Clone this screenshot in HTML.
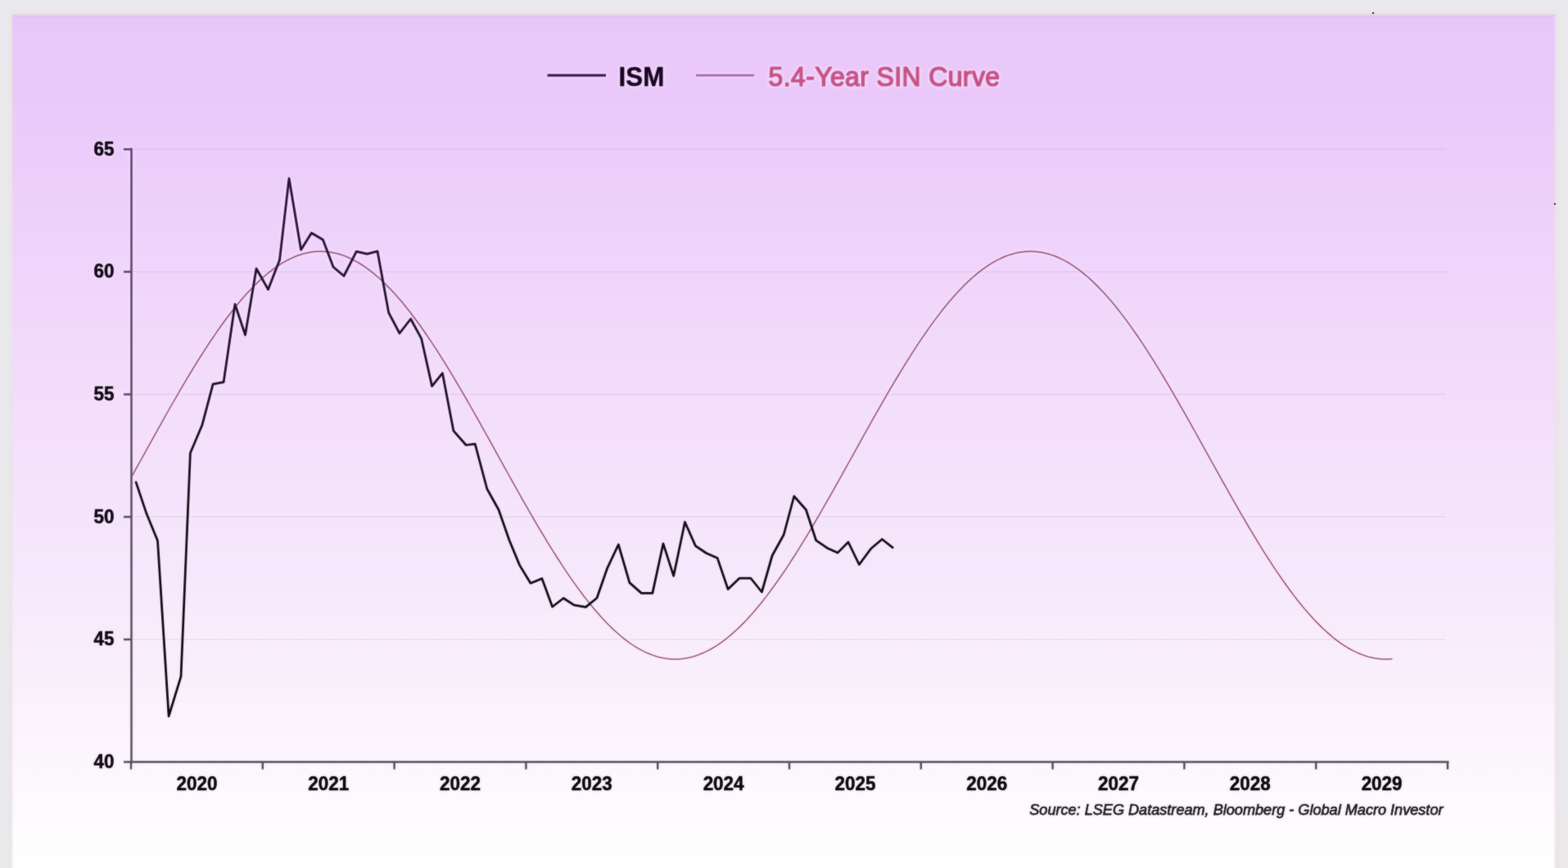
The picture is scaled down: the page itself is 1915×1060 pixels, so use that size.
<!DOCTYPE html>
<html lang="en">
<head>
<meta charset="utf-8">
<title>ISM vs 5.4-Year SIN Curve</title>
<style>
  html, body { margin: 0; padding: 0; background: #e9e8ea; }
  body { width: 1915px; height: 1060px; overflow: hidden; position: relative;
         font-family: "Liberation Sans", Arial, Helvetica, sans-serif; }
  .card { position: absolute; left: 15px; top: 18px; width: 1883.5px; height: 1070px; filter: blur(1.2px);
          background: linear-gradient(to bottom, #e9c6fa 0px, #ebcbfa 140px, #f0d6fb 330px, #f4e0fb 520px, #f7e9fc 700px, #fbf3fd 860px, #fefbfe 980px, #ffffff 1042px);
          box-shadow: 0 0 4px 1.5px rgba(238,224,230,0.95), inset 0 3px 3px -1px rgba(205,190,215,0.55); }
  svg { position: absolute; left: 0; top: 0; }
  text { font-family: "Liberation Sans", Arial, Helvetica, sans-serif; }
  .ylab { font-size: 22.4px; font-weight: bold; fill: #0c0510; stroke: #0c0510; stroke-width: 0.5px; text-anchor: end; }
  .xlab { font-size: 22.45px; font-weight: bold; fill: #050307; stroke: #050307; stroke-width: 0.5px; text-anchor: middle; }
  .leg  { font-size: 32px; font-weight: bold; }
  .src  { font-size: 18.13px; font-style: italic; fill: #1d1922; stroke: #1d1922; stroke-width: 0.75px; text-anchor: end; }
</style>
</head>
<body>
<div class="card"></div>
<svg width="1915" height="1060" viewBox="0 0 1915 1060">

<g stroke="#9a78ac" stroke-opacity="0.11" stroke-width="1.8" fill="none">
<line x1="162" y1="182.3" x2="1766" y2="182.3"/>
<line x1="162" y1="331.9" x2="1766" y2="331.9"/>
<line x1="162" y1="481.6" x2="1766" y2="481.6"/>
<line x1="162" y1="631.2" x2="1766" y2="631.2"/>
<line x1="162" y1="780.9" x2="1766" y2="780.9"/>
</g>
<defs>
<filter id="soft" filterUnits="userSpaceOnUse" x="0" y="0" width="1915" height="1060" color-interpolation-filters="sRGB">
  <feGaussianBlur in="SourceAlpha" stdDeviation="2" result="h"/>
  <feGaussianBlur in="SourceAlpha" stdDeviation="0.85" result="b1"/>
  <feComponentTransfer in="b1" result="b2"><feFuncA type="linear" slope="3"/></feComponentTransfer>
  <feComposite in="h" in2="b2" operator="out" result="ho"/>
  <feComponentTransfer in="ho" result="ho2"><feFuncA type="linear" slope="1.8"/></feComponentTransfer>
  <feFlood flood-color="#fff0fd" result="c"/>
  <feComposite in="c" in2="ho2" operator="in" result="halo"/>
  <feGaussianBlur in="SourceGraphic" stdDeviation="0.85" result="blur"/>
  <feComposite in="blur" in2="SourceGraphic" operator="arithmetic" k1="0" k2="0.4" k3="0.6" k4="0" result="soft"/>
  <feMerge><feMergeNode in="halo"/><feMergeNode in="soft"/></feMerge>
</filter>
</defs>
<g filter="url(#soft)">
<defs><linearGradient id="ag" gradientUnits="userSpaceOnUse" x1="0" y1="180" x2="0" y2="940"><stop offset="0" stop-color="#5d3f70"/><stop offset="0.5" stop-color="#5a4766"/><stop offset="1" stop-color="#514d57"/></linearGradient></defs>
<g stroke="url(#ag)" stroke-width="2.5" fill="none" stroke-linecap="butt">
<line x1="160.5" y1="180.8" x2="160.5" y2="932.0"/>
<line x1="151" y1="930.5" x2="1769.5" y2="930.5"/>
<line x1="151" y1="182.3" x2="160.5" y2="182.3"/>
<line x1="151" y1="331.9" x2="160.5" y2="331.9"/>
<line x1="151" y1="481.6" x2="160.5" y2="481.6"/>
<line x1="151" y1="631.2" x2="160.5" y2="631.2"/>
<line x1="151" y1="780.9" x2="160.5" y2="780.9"/>
<line x1="160.0" y1="930.5" x2="160.0" y2="939.5"/>
<line x1="320.8" y1="930.5" x2="320.8" y2="939.5"/>
<line x1="481.6" y1="930.5" x2="481.6" y2="939.5"/>
<line x1="642.4" y1="930.5" x2="642.4" y2="939.5"/>
<line x1="803.2" y1="930.5" x2="803.2" y2="939.5"/>
<line x1="964.0" y1="930.5" x2="964.0" y2="939.5"/>
<line x1="1124.8" y1="930.5" x2="1124.8" y2="939.5"/>
<line x1="1285.6" y1="930.5" x2="1285.6" y2="939.5"/>
<line x1="1446.4" y1="930.5" x2="1446.4" y2="939.5"/>
<line x1="1607.2" y1="930.5" x2="1607.2" y2="939.5"/>
<line x1="1768.0" y1="930.5" x2="1768.0" y2="939.5"/>
</g>
<polyline points="160.5,582.6 164.5,575.4 168.5,568.2 172.5,561.0 176.5,553.8 180.5,546.5 184.5,539.3 188.5,532.1 192.5,524.9 196.5,517.8 200.5,510.6 204.5,503.5 208.5,496.5 212.5,489.5 216.5,482.6 220.5,475.7 224.5,468.9 228.5,462.1 232.5,455.5 236.5,448.9 240.5,442.4 244.5,436.0 248.5,429.8 252.5,423.6 256.5,417.5 260.5,411.6 264.5,405.7 268.5,400.0 272.5,394.5 276.5,389.0 280.5,383.7 284.5,378.6 288.5,373.6 292.5,368.8 296.5,364.1 300.5,359.5 304.5,355.2 308.5,351.0 312.5,347.0 316.5,343.1 320.5,339.5 324.5,336.0 328.5,332.7 332.5,329.6 336.5,326.7 340.5,324.0 344.5,321.4 348.5,319.1 352.5,317.0 356.5,315.1 360.5,313.3 364.5,311.8 368.5,310.5 372.5,309.4 376.5,308.5 380.5,307.8 384.5,307.3 388.5,307.1 392.5,307.0 396.5,307.2 400.5,307.5 404.5,308.1 408.5,308.9 412.5,309.8 416.5,311.0 420.5,312.4 424.5,314.0 428.5,315.9 432.5,317.9 436.5,320.1 440.5,322.5 444.5,325.1 448.5,327.9 452.5,330.9 456.5,334.1 460.5,337.5 464.5,341.0 468.5,344.8 472.5,348.7 476.5,352.8 480.5,357.0 484.5,361.5 488.5,366.0 492.5,370.8 496.5,375.7 500.5,380.8 504.5,386.0 508.5,391.3 512.5,396.8 516.5,402.5 520.5,408.2 524.5,414.1 528.5,420.1 532.5,426.2 536.5,432.4 540.5,438.8 544.5,445.2 548.5,451.7 552.5,458.3 556.5,465.0 560.5,471.8 564.5,478.6 568.5,485.5 572.5,492.5 576.5,499.5 580.5,506.6 584.5,513.7 588.5,520.8 592.5,528.0 596.5,535.2 600.5,542.4 604.5,549.6 608.5,556.8 612.5,564.1 616.5,571.3 620.5,578.5 624.5,585.7 628.5,592.8 632.5,600.0 636.5,607.1 640.5,614.1 644.5,621.1 648.5,628.1 652.5,635.0 656.5,641.8 660.5,648.5 664.5,655.2 668.5,661.8 672.5,668.3 676.5,674.7 680.5,681.0 684.5,687.2 688.5,693.3 692.5,699.3 696.5,705.1 700.5,710.9 704.5,716.4 708.5,721.9 712.5,727.2 716.5,732.4 720.5,737.4 724.5,742.3 728.5,747.0 732.5,751.6 736.5,756.0 740.5,760.2 744.5,764.2 748.5,768.1 752.5,771.8 756.5,775.3 760.5,778.7 764.5,781.8 768.5,784.8 772.5,787.5 776.5,790.1 780.5,792.4 784.5,794.6 788.5,796.6 792.5,798.3 796.5,799.9 800.5,801.3 804.5,802.4 808.5,803.3 812.5,804.1 816.5,804.6 820.5,804.9 824.5,805.0 828.5,804.9 832.5,804.6 836.5,804.1 840.5,803.3 844.5,802.4 848.5,801.3 852.5,799.9 856.5,798.3 860.5,796.6 864.5,794.6 868.5,792.5 872.5,790.1 876.5,787.6 880.5,784.8 884.5,781.9 888.5,778.8 892.5,775.4 896.5,771.9 900.5,768.3 904.5,764.4 908.5,760.4 912.5,756.2 916.5,751.8 920.5,747.3 924.5,742.6 928.5,737.7 932.5,732.7 936.5,727.6 940.5,722.3 944.5,716.8 948.5,711.2 952.5,705.5 956.5,699.7 960.5,693.8 964.5,687.7 968.5,681.5 972.5,675.3 976.5,668.9 980.5,662.4 984.5,655.8 988.5,649.2 992.5,642.5 996.5,635.7 1000.5,628.8 1004.5,621.9 1008.5,614.9 1012.5,607.9 1016.5,600.8 1020.5,593.7 1024.5,586.6 1028.5,579.4 1032.5,572.2 1036.5,565.0 1040.5,557.8 1044.5,550.6 1048.5,543.4 1052.5,536.2 1056.5,529.0 1060.5,521.9 1064.5,514.7 1068.5,507.6 1072.5,500.6 1076.5,493.6 1080.5,486.6 1084.5,479.7 1088.5,472.9 1092.5,466.1 1096.5,459.5 1100.5,452.9 1104.5,446.3 1108.5,439.9 1112.5,433.6 1116.5,427.4 1120.5,421.2 1124.5,415.2 1128.5,409.3 1132.5,403.6 1136.5,397.9 1140.5,392.4 1144.5,387.1 1148.5,381.9 1152.5,376.8 1156.5,371.8 1160.5,367.1 1164.5,362.5 1168.5,358.0 1172.5,353.7 1176.5,349.6 1180.5,345.6 1184.5,341.9 1188.5,338.3 1192.5,334.9 1196.5,331.7 1200.5,328.6 1204.5,325.8 1208.5,323.1 1212.5,320.7 1216.5,318.4 1220.5,316.4 1224.5,314.5 1228.5,312.8 1232.5,311.4 1236.5,310.2 1240.5,309.1 1244.5,308.3 1248.5,307.7 1252.5,307.2 1256.5,307.0 1260.5,307.0 1264.5,307.2 1268.5,307.7 1272.5,308.3 1276.5,309.1 1280.5,310.2 1284.5,311.4 1288.5,312.8 1292.5,314.5 1296.5,316.4 1300.5,318.4 1304.5,320.7 1308.5,323.1 1312.5,325.8 1316.5,328.6 1320.5,331.7 1324.5,334.9 1328.5,338.3 1332.5,341.9 1336.5,345.6 1340.5,349.6 1344.5,353.7 1348.5,358.0 1352.5,362.5 1356.5,367.1 1360.5,371.8 1364.5,376.8 1368.5,381.9 1372.5,387.1 1376.5,392.4 1380.5,397.9 1384.5,403.6 1388.5,409.3 1392.5,415.2 1396.5,421.2 1400.5,427.4 1404.5,433.6 1408.5,439.9 1412.5,446.3 1416.5,452.9 1420.5,459.5 1424.5,466.1 1428.5,472.9 1432.5,479.7 1436.5,486.6 1440.5,493.6 1444.5,500.6 1448.5,507.6 1452.5,514.7 1456.5,521.9 1460.5,529.0 1464.5,536.2 1468.5,543.4 1472.5,550.6 1476.5,557.8 1480.5,565.0 1484.5,572.2 1488.5,579.4 1492.5,586.6 1496.5,593.7 1500.5,600.8 1504.5,607.9 1508.5,614.9 1512.5,621.9 1516.5,628.8 1520.5,635.7 1524.5,642.5 1528.5,649.2 1532.5,655.8 1536.5,662.4 1540.5,668.9 1544.5,675.3 1548.5,681.5 1552.5,687.7 1556.5,693.8 1560.5,699.7 1564.5,705.5 1568.5,711.2 1572.5,716.8 1576.5,722.3 1580.5,727.6 1584.5,732.7 1588.5,737.7 1592.5,742.6 1596.5,747.3 1600.5,751.8 1604.5,756.2 1608.5,760.4 1612.5,764.4 1616.5,768.3 1620.5,771.9 1624.5,775.4 1628.5,778.8 1632.5,781.9 1636.5,784.8 1640.5,787.6 1644.5,790.1 1648.5,792.5 1652.5,794.6 1656.5,796.6 1660.5,798.3 1664.5,799.9 1668.5,801.3 1672.5,802.4 1676.5,803.3 1680.5,804.1 1684.5,804.6 1688.5,804.9 1692.5,805.0 1696.5,804.9 1700.4,804.6" fill="none" stroke="#95506f" stroke-width="1.5" stroke-linejoin="round"/>
<defs><linearGradient id="ig" gradientUnits="userSpaceOnUse" x1="0" y1="180" x2="0" y2="930"><stop offset="0" stop-color="#2c0e3e"/><stop offset="0.3" stop-color="#1e0c28"/><stop offset="0.6" stop-color="#100814"/><stop offset="1" stop-color="#060408"/></linearGradient></defs>
<polyline points="166.1,588.9 178.9,627.1 192.5,660.2 206.1,874.6 221.0,826.2 232.4,553.2 246.8,519.3 260.1,469.2 273.1,466.6 287.0,371.5 299.5,409.0 313.1,328.0 327.5,353.5 341.5,317.4 353.0,217.8 367.6,305.0 380.4,284.5 394.4,292.7 407.0,326.0 420.0,337.0 435.3,307.2 448.4,310.2 461.0,306.8 474.7,381.9 488.0,407.0 501.6,389.5 514.6,413.3 527.6,471.6 540.4,455.7 553.9,526.2 569.2,543.5 580.2,542.2 594.8,597.0 609.0,622.5 622.0,659.8 634.7,690.4 648.0,712.2 661.9,706.5 674.6,741.0 688.2,730.5 701.0,738.8 715.4,741.4 729.0,730.3 741.7,693.8 755.3,665.0 768.9,711.6 783.4,724.4 796.9,724.4 810.0,663.8 822.7,703.3 836.5,637.5 849.4,666.6 862.6,675.5 876.2,681.6 889.1,719.5 903.2,706.0 916.8,706.0 930.4,723.0 943.1,678.5 957.2,653.0 969.8,606.0 984.4,622.5 996.6,659.8 1010.2,669.2 1023.0,675.1 1036.0,662.0 1049.3,689.5 1063.7,670.0 1077.3,658.5 1090.1,668.7" fill="none" stroke="url(#ig)" stroke-width="2.75" stroke-linejoin="round" stroke-linecap="round"/>
<line x1="668.5" y1="92" x2="740" y2="92" stroke="#36124b" stroke-width="3.1"/>
<text class="leg" transform="translate(755.6,105.2) scale(0.978,1.045)" fill="#14031c" stroke="#14031c" stroke-width="0.3">ISM</text>
<line x1="850" y1="92" x2="921" y2="92" stroke="#a866a2" stroke-width="2.4"/>
<text class="leg" transform="translate(938.6,105.2) scale(0.997,1.04)" fill="#c5517f" stroke="#c5517f" stroke-width="1.15" stroke-linejoin="round" style="font-weight:normal;letter-spacing:0.42px">5.4-Year SIN Curve</text>
<text class="ylab" transform="translate(139.5,189.6) scale(1,1.06)">65</text>
<text class="ylab" transform="translate(139.5,339.2) scale(1,1.06)">60</text>
<text class="ylab" transform="translate(139.5,488.9) scale(1,1.06)">55</text>
<text class="ylab" transform="translate(139.5,638.5) scale(1,1.06)">50</text>
<text class="ylab" transform="translate(139.5,788.2) scale(1,1.06)">45</text>
<text class="ylab" transform="translate(139.5,937.8) scale(1,1.06)">40</text>
<text class="xlab" transform="translate(240.4,964.5) scale(1,1.045)">2020</text>
<text class="xlab" transform="translate(401.2,964.5) scale(1,1.045)">2021</text>
<text class="xlab" transform="translate(562.0,964.5) scale(1,1.045)">2022</text>
<text class="xlab" transform="translate(722.8,964.5) scale(1,1.045)">2023</text>
<text class="xlab" transform="translate(883.6,964.5) scale(1,1.045)">2024</text>
<text class="xlab" transform="translate(1044.4,964.5) scale(1,1.045)">2025</text>
<text class="xlab" transform="translate(1205.2,964.5) scale(1,1.045)">2026</text>
<text class="xlab" transform="translate(1366.0,964.5) scale(1,1.045)">2027</text>
<text class="xlab" transform="translate(1526.8,964.5) scale(1,1.045)">2028</text>
<text class="xlab" transform="translate(1687.6,964.5) scale(1,1.045)">2029</text>
<text class="src" x="1762.5" y="994.8">Source: LSEG Datastream, Bloomberg - Global Macro Investor</text>
</g>
<circle cx="1677" cy="16" r="1.3" fill="#55505a"/>
<circle cx="1899" cy="249" r="1.3" fill="#55505a"/>
</svg>
</body>
</html>
